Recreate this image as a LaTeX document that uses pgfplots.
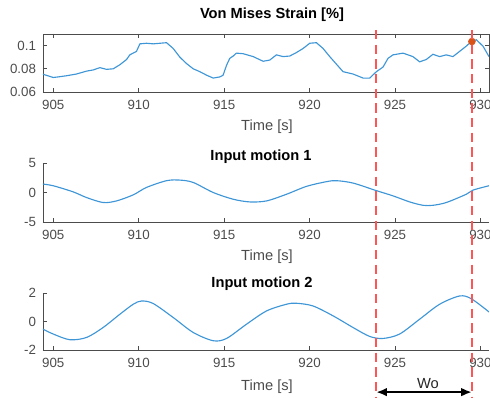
\documentclass[border=0pt]{standalone}
\usepackage{pgfplots}
\pgfplotsset{compat=1.18}
\usepackage{fontspec}
\setmainfont{Liberation Sans}
\usetikzlibrary{arrows.meta}
\definecolor{mblue}{RGB}{62,150,215}
\definecolor{mred}{RGB}{255,85,85}
\definecolor{morange}{RGB}{217,83,25}
\pgfplotsset{
  myax/.style={
    scale only axis, width=334.5pt, anchor=south west,
    xmin=904.4, xmax=930.5, xtick={905,910,915,920,925,930},
    tick align=inside, major tick length=3pt,
    axis line style={black!70, line width=0.6pt},
    tick style={black!70, line width=0.6pt},
    tick label style={font=\fontsize{10}{12}\selectfont, text=black!70},
    /pgf/number format/assume math mode=true,
    /pgf/number format/1000 sep={},
    xticklabel style={yshift=-2.7pt},
    yticklabel style={xshift=-1.7pt},
    scaled ticks=false,
  },
  openax/.style={axis x line*=bottom, axis y line*=left, axis line style={-}},
}
\begin{document}
\begin{tikzpicture}
\clip (0,0) rectangle (367.5pt,298.5pt);
% top axis
\begin{axis}[myax, at={(32.25pt,229.5pt)}, height=43.5pt,
  ymin=0.06, ymax=0.11, ytick={0.06,0.08,0.1}, yticklabels={0.06,0.08,0.1}]
\addplot[mblue, line width=0.85pt] coordinates {
(904.38,0.0754) (905.00,0.0725) (905.29,0.0730) (905.78,0.0740) (906.36,0.0755)
(906.95,0.0780) (907.34,0.0790) (907.73,0.0810) (908.12,0.0795) (908.51,0.0800)
(908.90,0.0835) (909.29,0.0880) (909.48,0.0920) (909.87,0.0950) (910.07,0.1015)
(910.46,0.1020) (910.85,0.1015) (911.24,0.1020) (911.63,0.1025) (912.02,0.0975)
(912.41,0.0900) (912.80,0.0845) (913.19,0.0800) (913.58,0.0775) (913.97,0.0745)
(914.36,0.0720) (914.75,0.0730) (914.94,0.0745) (915.14,0.0830) (915.33,0.0890)
(915.53,0.0910) (915.72,0.0935) (916.11,0.0930) (916.70,0.0905) (917.28,0.0865)
(917.67,0.0875) (918.06,0.0920) (918.45,0.0905) (918.84,0.0910) (919.23,0.0940)
(919.62,0.0975) (920.01,0.1020) (920.40,0.1025) (920.79,0.0975) (921.18,0.0905)
(921.57,0.0840) (921.96,0.0775) (922.54,0.0755) (923.13,0.0720) (923.52,0.0720)
(923.91,0.0775) (924.30,0.0815) (924.59,0.0890) (924.88,0.0920) (925.47,0.0935)
(926.05,0.0905) (926.44,0.0860) (926.83,0.0880) (927.22,0.0925) (927.61,0.0905)
(928.00,0.0920) (928.39,0.0905) (928.78,0.0950) (929.17,0.0995) (929.46,0.1035)
(929.76,0.1050) (930.15,0.0995) (930.50,0.0905)
};
\addplot[only marks, mark=*, mark size=2.6pt, color=morange] coordinates {(929.5,0.1035)};
\coordinate (wA) at (axis cs:923.9,0.08);
\coordinate (wB) at (axis cs:929.5,0.08);
\end{axis}
% middle axis
\begin{axis}[myax, openax, at={(32.25pt,132pt)}, height=44.25pt,
  ymin=-5, ymax=5, ytick={-5,0,5}]
\addplot[mblue, line width=0.85pt, smooth] coordinates {
(904.38,1.43) (905.00,1.14) (906.17,0.10) (906.95,-0.86) (907.92,-1.70)
(908.70,-1.43) (909.68,-0.40) (910.46,0.86) (911.63,2.00) (912.41,2.10)
(913.19,1.70) (914.36,0.00) (915.53,-1.14) (916.50,-1.60) (917.48,-1.43)
(918.65,-0.30) (919.81,1.03) (920.98,1.83) (921.57,2.00) (922.54,1.60)
(923.87,0.35) (924.88,-0.57) (925.86,-1.60) (926.64,-2.17) (927.22,-2.17)
(928.00,-1.70) (929.17,-0.30) (929.56,0.40) (930.50,1.14)
};
\end{axis}
% bottom axis
\begin{axis}[myax, openax, at={(32.25pt,36pt)}, height=42.75pt,
  ymin=-2, ymax=2, ytick={-2,0,2}]
\addplot[mblue, line width=0.85pt, smooth] coordinates {
(904.38,-0.53) (905.00,-0.88) (905.97,-1.28) (906.95,-1.12) (907.92,-0.42)
(908.90,0.51) (909.68,1.21) (910.17,1.44) (910.85,1.26) (912.02,0.28)
(913.19,-0.77) (914.36,-1.35) (915.14,-1.19) (916.31,-0.19) (917.48,0.74)
(918.65,1.21) (919.23,1.28) (920.20,1.09) (921.37,0.40) (922.54,-0.42)
(923.52,-1.05) (924.30,-1.19) (925.27,-0.88) (926.44,0.16) (927.61,1.21)
(928.78,1.79) (929.46,1.60) (930.50,0.67)
};
\end{axis}
% titles and labels
\node[font=\fontsize{11}{13}\selectfont\bfseries] at (204pt,287.25pt) {Von Mises Strain [\%]};
\node[font=\fontsize{11}{13}\selectfont\bfseries] at (195.75pt,180.75pt) {Input motion 1};
\node[font=\fontsize{11}{13}\selectfont\bfseries] at (196.5pt,85.5pt) {Input motion 2};
\foreach \yy in {203.25pt,105.75pt,8.25pt}
  \node[font=\fontsize{11}{13}\selectfont, text=black!70] at (200.25pt,\yy) {Time [s]};
% window lines
\draw[mred, line width=1.1pt, dash pattern=on 7pt off 4pt] (wA |- 0,276pt) -- (wA |- 0,0pt);
\draw[mred, line width=1.1pt, dash pattern=on 7pt off 4pt] (wB |- 0,276pt) -- (wB |- 0,0pt);
\draw[black, line width=2pt, {Latex[length=8pt,width=6.5pt]}-{Latex[length=8pt,width=6.5pt]}] (wA |- 0,4.4pt) -- (wB |- 0,4.4pt);
\node[font=\fontsize{11}{13}\selectfont, text=black!85] at (321pt,11pt) {Wo};
\end{tikzpicture}
\end{document}
